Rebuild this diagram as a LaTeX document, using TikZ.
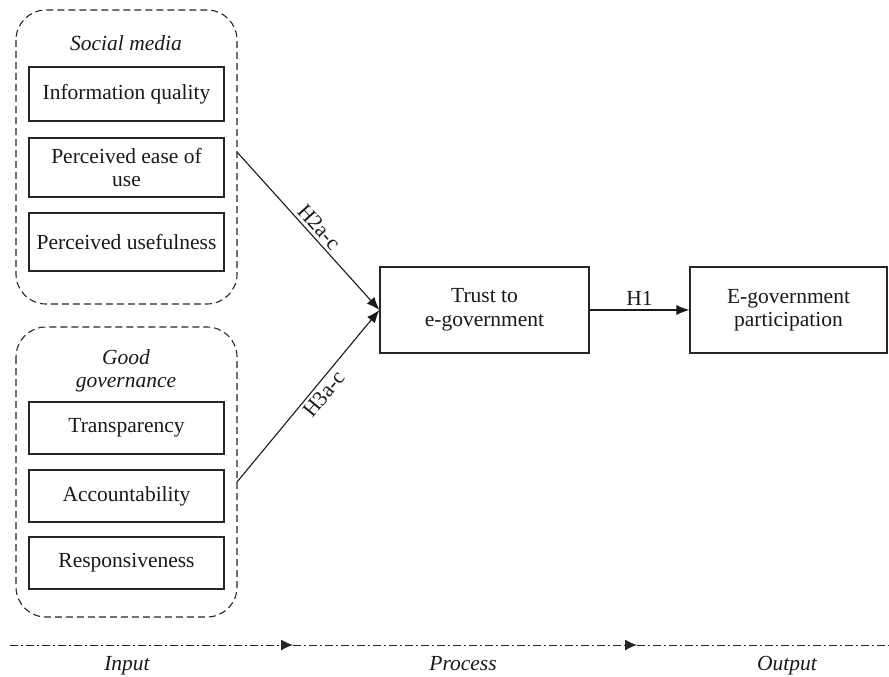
\documentclass[tikz,border=0pt]{standalone}
\usepackage{fontspec}
\setmainfont{Liberation Serif}
\usetikzlibrary{arrows.meta,calc}
\begin{document}
\begin{tikzpicture}[x=1pt,y=-1pt,
  every node/.style={font=\fontsize{21.5}{23.5}\selectfont, text=black!90},
  itembox/.style={draw=black!85, line width=1.2pt, inner sep=0pt},
  groupbox/.style={draw=black!85, line width=1.1pt, dash pattern=on 7pt off 4pt, rounded corners=30pt},
  link/.style={draw=black!90, line width=1.1pt, -{Latex[length=13pt,width=10pt]}},
  axisline/.style={draw=black!85, line width=1pt, dash pattern=on 8pt off 3pt on 2pt off 3pt},
  axistip/.style={-{Latex[length=12pt,width=11pt]}},
  lbl/.style={font=\fontsize{21.5}{23.5}\selectfont\itshape, align=center},
  txt/.style={align=center}]
\useasboundingbox (0,0) rectangle (889,677);

% group boxes
\draw[groupbox] (16,10) rectangle (237,304);
\draw[groupbox] (16,327) rectangle (237,617);
\coordinate (smE) at (237,152);
\coordinate (ggE) at (237,482);

\node[lbl] (smlabel) at (126,43) {Social media};
\node[lbl] (gglabel) at (126,371) {Good\\governance};

% items
\node[itembox, minimum width=195pt, minimum height=54pt, txt] (iq) at (126.5,94) {Information quality};
\node[itembox, minimum width=195pt, minimum height=59pt, txt] (pe) at (126.5,167.5) {Perceived ease of\\use};
\node[itembox, minimum width=195pt, minimum height=58pt, txt] (pu) at (126.5,242) {Perceived usefulness};

\node[itembox, minimum width=195pt, minimum height=52pt, txt] (tr) at (126.5,428) {Transparency};
\node[itembox, minimum width=195pt, minimum height=52pt, txt] (ac) at (126.5,496) {Accountability};
\node[itembox, minimum width=195pt, minimum height=52pt, txt] (re) at (126.5,563) {Responsiveness};

% process and output
\node[itembox, minimum width=209pt, minimum height=86pt, txt] (trust) at (484.5,310) {Trust to\\e-government};
\node[itembox, minimum width=197pt, minimum height=86pt, txt] (egov) at (788.5,310) {E-government\\participation};

% links
\draw[link] (smE) -- node[sloped, above, pos=0.52, inner sep=3pt] {H2a-c} (trust.west);
\draw[link] (ggE) -- node[sloped, below, pos=0.55, inner sep=3pt] {H3a-c} (trust.west);
\draw[link] (trust.east) -- node[above, inner sep=4pt] {H1} (egov.west);

% axis
\coordinate (ax0) at (10,645);
\coordinate (ax1) at (293,645);
\coordinate (ax2) at (637,645);
\coordinate (ax3) at (889,645);
\draw[axisline, axistip] (ax0) -- (ax1);
\draw[axisline, axistip] (ax1) -- (ax2);
\draw[axisline] (ax2) -- (ax3);

\node[lbl, anchor=base] (in) at (127,670) {Input};
\node[lbl, anchor=base] (pr) at (463,670) {Process};
\node[lbl, anchor=base] (out) at (787,670) {Output};
\end{tikzpicture}
\end{document}
